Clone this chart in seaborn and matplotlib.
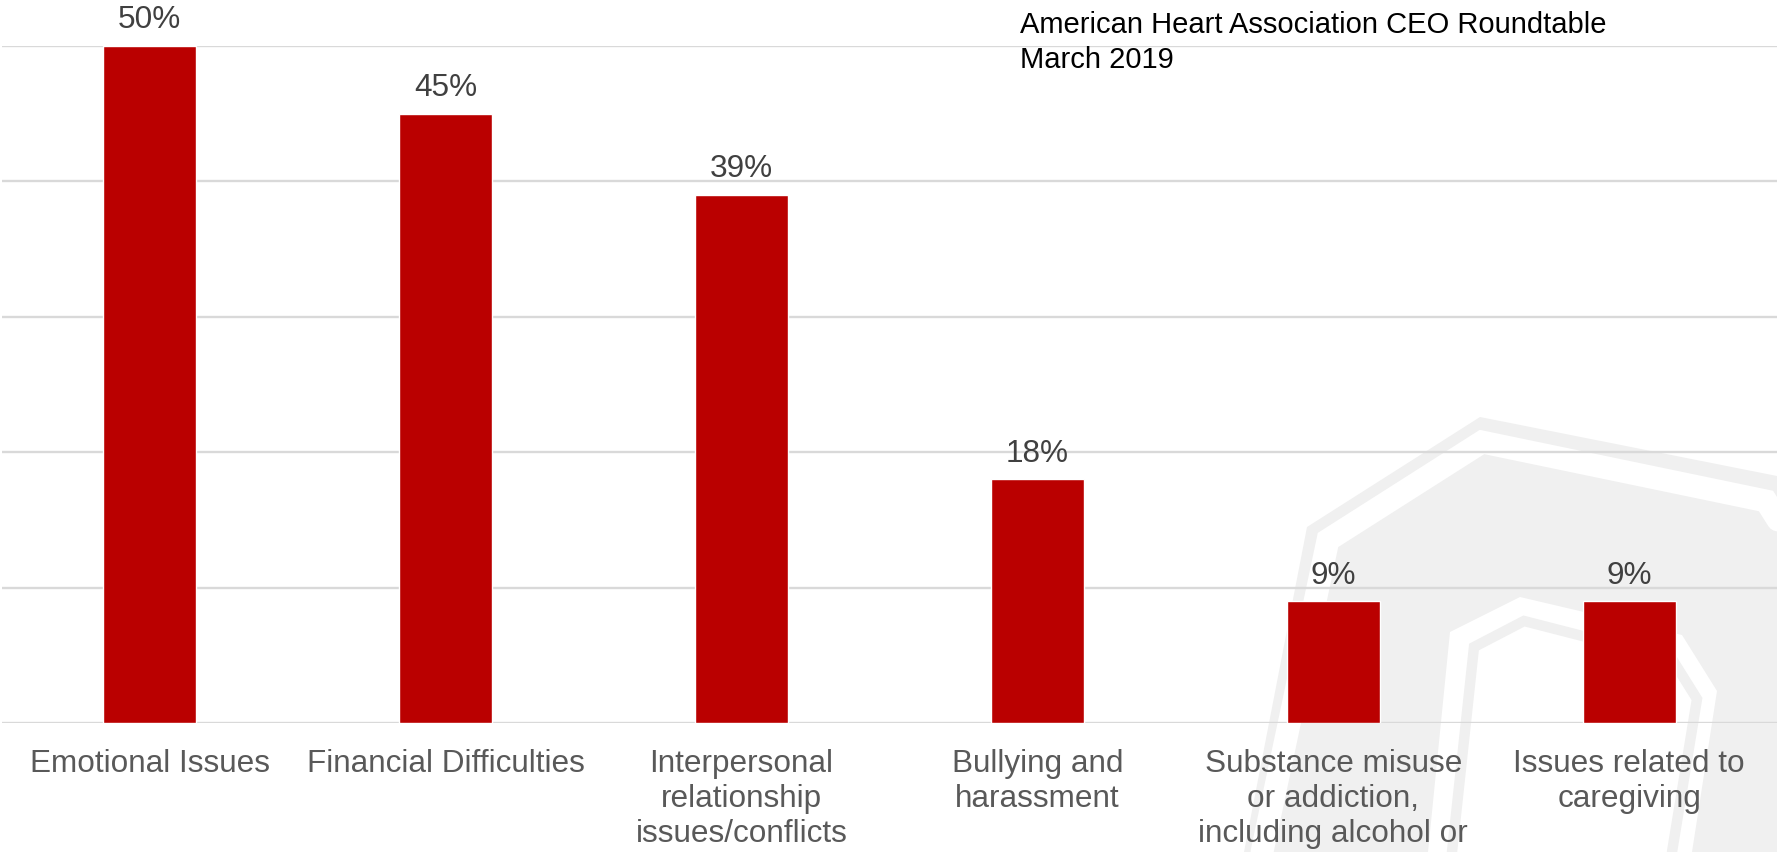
import matplotlib
matplotlib.use("Agg")
import matplotlib.pyplot as plt
from matplotlib.patches import Polygon
from matplotlib.lines import Line2D
import seaborn as sns

# Datele graficului
categories = [
    "Emotional Issues",
    "Financial Difficulties",
    "Interpersonal\nrelationship\nissues/conflicts",
    "Bullying and\nharassment",
    "Substance misuse\nor addiction,\nincluding alcohol or",
    "Issues related to\ncaregiving",
]
values = [50, 45, 39, 18, 9, 9]
value_labels = ["50%", "45%", "39%", "18%", "9%", "9%"]
header_lines = ["American Heart Association CEO Roundtable", "March 2019"]

W, H = 1777, 853
BAR_RED = "#BA0000"
WM_GRAY = "#f0f0f0"

sns.set_style("white")
plt.rcParams["font.family"] = ["Liberation Sans", "DejaVu Sans"]

fig = plt.figure(figsize=(W / 100, H / 100), dpi=100)
fig.patch.set_facecolor("white")


def px(x, y):
    # pixeli din imagine -> coordonate figura
    return (x / W, 1 - y / H)


def add_poly(points, color, z):
    fig.patches.append(Polygon([px(*p) for p in points], closed=True, transform=fig.transFigure,
                               facecolor=color, edgecolor="none", zorder=z))


def add_line(points, color, lw, z):
    xs, ys = zip(*[px(*p) for p in points])
    fig.lines.append(Line2D(xs, ys, transform=fig.transFigure, color=color, lw=lw,
                            solid_joinstyle="miter", zorder=z))


# Watermark-ul gri din dreapta jos
add_poly([(1244, 853), (1307, 528), (1480, 418), (1777, 477), (1777, 853)], WM_GRAY, -4)
add_line([(1262, 853), (1328, 541), (1482, 443), (1766, 502), (1790, 540)], "white", 16.5, -3)
add_poly([(1428, 853), (1450, 633), (1520, 598), (1682, 636), (1717, 692), (1692, 853)], "white", -2)
add_line([(1452, 853), (1474, 648), (1524, 622), (1672, 660), (1697, 700), (1672, 853)], WM_GRAY, 7.5, -1)

ax = fig.add_axes([0.001, 0.151, 0.999, 0.794])
ax.set_facecolor("none")

sns.barplot(x=categories, y=values, color=BAR_RED, saturation=1, width=0.314, ax=ax, zorder=3)

ax.set_ylim(0, 50)
ax.set_xlim(-0.5, len(categories) - 0.5)
ax.set_yticks([0, 10, 20, 30, 40, 50])
ax.set_yticklabels([])
ax.yaxis.grid(True, color="#d9d9d9", linewidth=1.7)
ax.xaxis.grid(False)
ax.set_axisbelow(True)
for s in ax.spines.values():
    s.set_visible(False)
ax.tick_params(axis="x", length=0, pad=18, labelsize=22.7, labelcolor="#595959")
ax.tick_params(axis="y", length=0)
for lbl in ax.get_xticklabels():
    lbl.set_linespacing(1.22)
ax.set_xlabel("")
ax.set_ylabel("")

# Etichetele cu procente deasupra barelor
for bar, txt in zip(ax.patches, value_labels):
    ax.annotate(txt, (bar.get_x() + bar.get_width() / 2, bar.get_height()),
                xytext=(0, 13.5), textcoords="offset points", ha="center", va="baseline",
                fontsize=22.7, color="#404040", annotation_clip=False)

fig.text(*px(1020, 33), header_lines[0], fontsize=21, color="black", va="baseline", ha="left")
fig.text(*px(1020, 68), header_lines[1], fontsize=21, color="black", va="baseline", ha="left")

fig.savefig("out.png", dpi=100)
